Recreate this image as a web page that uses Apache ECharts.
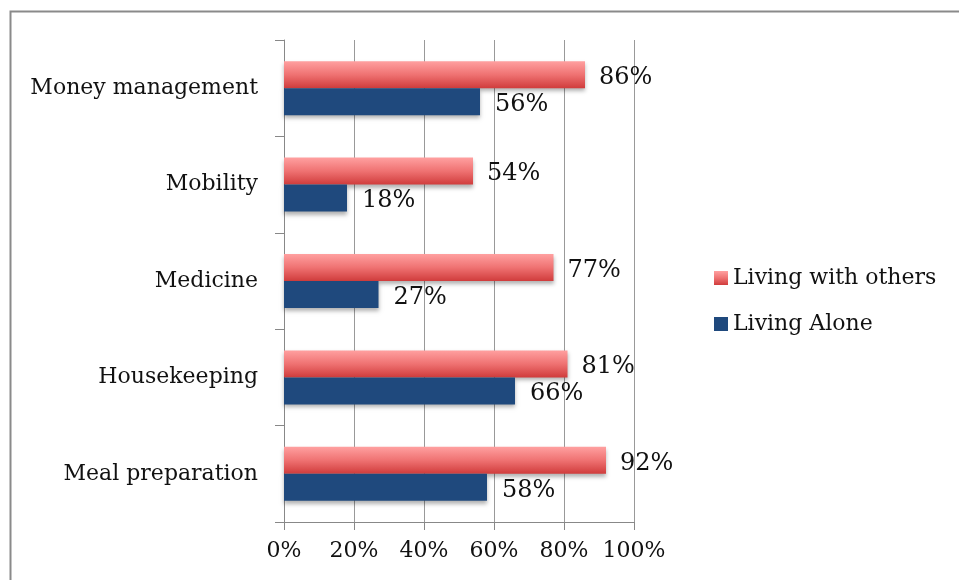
<!DOCTYPE html>
<html><head><meta charset="utf-8">
<script src="https://cdn.jsdelivr.net/npm/echarts@6/dist/echarts.min.js"></script>
<style>html,body{margin:0;padding:0;background:#fff}#c{width:959px;height:580px}</style>
</head><body><div id="c"></div>
<script>
const categories = ['Meal preparation','Housekeeping','Medicine','Mobility','Money management'];
const withOthers = [92,81,77,54,86];
const alone = [58,66,27,18,56];
const xTicks = [0,20,40,60,80,100];
const FONT = 'DejaVu Serif';
const chart = echarts.init(document.getElementById('c'));
chart.setOption({
  animation:false,
  backgroundColor:'#fff',
  graphic:[
    {type:'polyline',shape:{points:[[10.5,600],[10.5,11.5],[970,11.5]]},style:{stroke:'#8a8a8a',lineWidth:2,fill:null}}
  ],
  legend:{
    orient:'vertical', left:709, top:262, itemWidth:14, itemHeight:14, itemGap:24,
    icon:'rect',
    textStyle:{fontFamily:FONT,fontSize:22,color:'#111'},
    data:['Living with others','Living Alone']
  },
  grid:{left:284,right:325,top:40,bottom:58},
  xAxis:{type:'value',min:0,max:100,interval:20,
    axisLine:{show:true,lineStyle:{color:'#888'}},
    axisTick:{show:true,length:8,lineStyle:{color:'#888'}},
    splitLine:{show:true,lineStyle:{color:'#999'}},
    axisLabel:{formatter:v=>xTicks.includes(v)?v+'%':'',fontFamily:FONT,fontSize:22,color:'#111',margin:18}
  },
  yAxis:{type:'category',data:categories,
    axisLine:{lineStyle:{color:'#888'}},
    axisTick:{show:true,length:9,lineStyle:{color:'#888'}},
    axisLabel:{fontFamily:FONT,fontSize:22,color:'#111',margin:26}
  },
  series:[
    {name:'Living with others',type:'bar',data:withOthers,barWidth:27,barGap:'0%',
      itemStyle:{color:new echarts.graphic.LinearGradient(0,0,0,1,[{offset:0,color:'#ffa0a0'},{offset:0.5,color:'#ef7272'},{offset:1,color:'#d03c3c'}]),
        shadowColor:'rgba(0,0,0,0.3)',shadowBlur:4,shadowOffsetY:3},
      label:{show:true,position:'right',distance:14,formatter:'{c}%',fontFamily:FONT,fontSize:24,color:'#111',offset:[0,3]}},
    {name:'Living Alone',type:'bar',data:alone,barWidth:27,
      itemStyle:{color:'#1f497d',shadowColor:'rgba(0,0,0,0.3)',shadowBlur:4,shadowOffsetY:3},
      label:{show:true,position:'right',distance:15,formatter:'{c}%',fontFamily:FONT,fontSize:24,color:'#111',offset:[0,3]}}
  ]
});
</script></body></html>
